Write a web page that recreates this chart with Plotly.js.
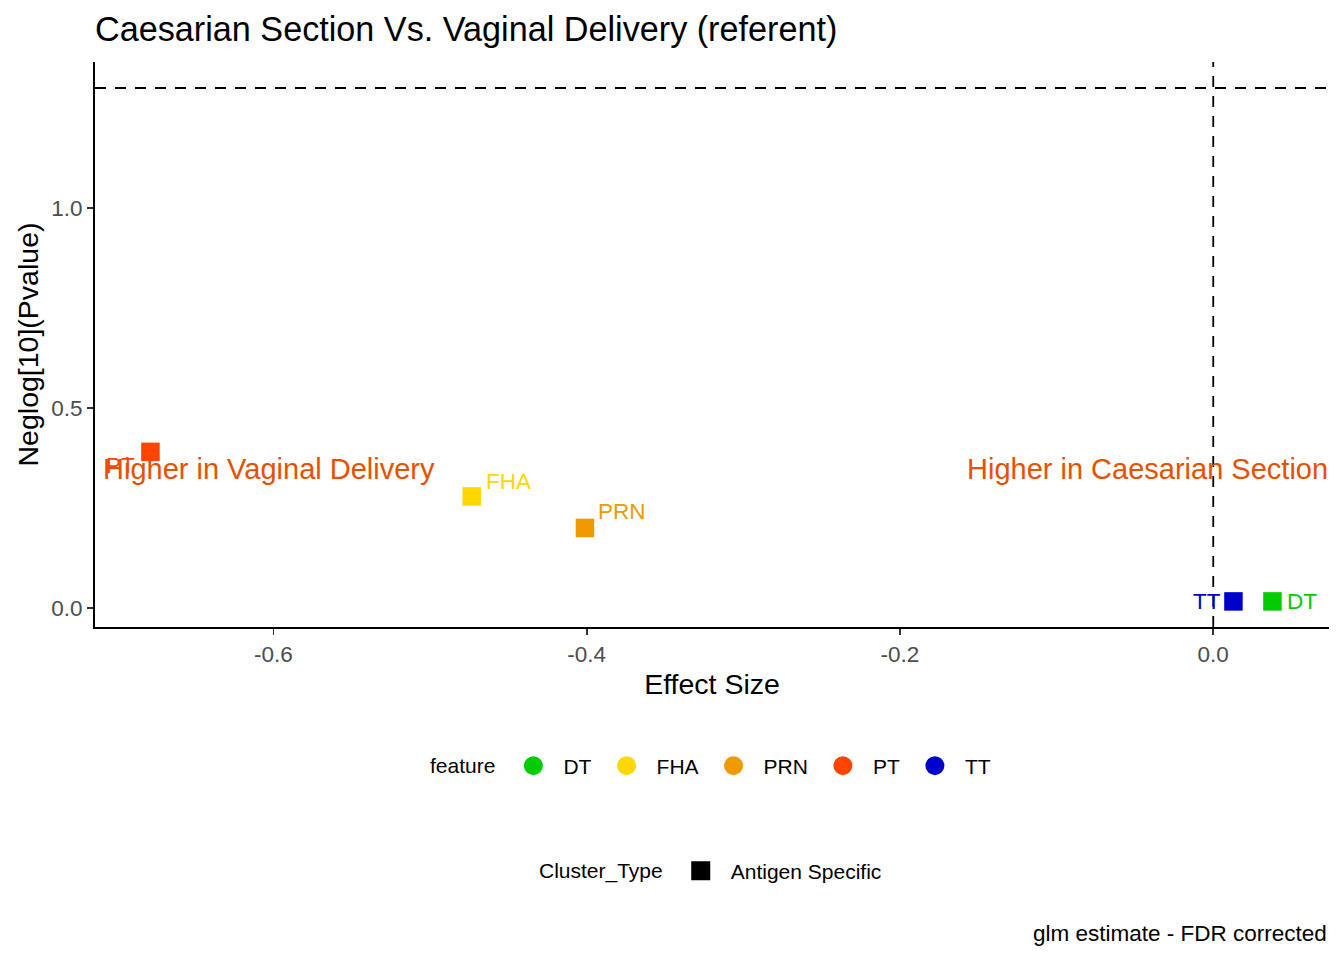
<!DOCTYPE html>
<html>
<head>
<meta charset="utf-8">
<script src="https://cdn.plot.ly/plotly-3.0.1.min.js"></script>
<style>
  html, body { margin: 0; padding: 0; background: #ffffff; }
  #chart { width: 1344px; height: 960px; }
</style>
</head>
<body>
<div id="chart"></div>
<script>
// ---- data ----
const features   = ['DT', 'FHA', 'PRN', 'PT', 'TT'];
const effectSize = [0.0378, -0.4734, -0.4011, -0.6785, 0.0129];
const neglogP    = [0.017, 0.2795, 0.2008, 0.391, 0.017];
const clusterTypes = ['Antigen Specific'];
const xTickVals  = [-0.6, -0.4, -0.2, 0.0];
const xTickText  = ['-0.6', '-0.4', '-0.2', '0.0'];
const yTickVals  = [0.0, 0.5, 1.0];
const yTickText  = ['0.0', '0.5', '1.0'];
const pThreshold = 0.05;

// ---- styles ----
const featureColors = {DT: '#00CD00', FHA: '#FFD700', PRN: '#EE9A00', PT: '#FF4500', TT: '#0000CD'};
const labelOffsets = {            // pixel offsets of the repelled text labels
  DT:  {dx: 29.5,  dy: -0.5},
  FHA: {dx: 36.3,  dy: 15},
  PRN: {dx: 37,    dy: 16},
  PT:  {dx: -29.5, dy: -14},
  TT:  {dx: -26.8, dy: -0.5}
};
const FONT = 'Liberation Sans, Arial, Helvetica, sans-serif';
const annotColor = '#E65100';

const traces = [];
// data points (squares)
features.forEach((f, i) => {
  traces.push({
    type: 'scatter', mode: 'markers',
    x: [effectSize[i]], y: [neglogP[i]],
    marker: {symbol: 'square', size: 18.5, color: featureColors[f]},
    showlegend: false, hoverinfo: 'x+y+name', name: f
  });
});
// legend entries: feature (circles)
features.forEach((f) => {
  traces.push({
    type: 'scatter', mode: 'markers',
    x: [null], y: [null],
    marker: {symbol: 'circle', size: 16, color: featureColors[f],
             line: {color: featureColors[f], width: 3}},
    name: f, legend: 'legend', showlegend: true
  });
});
// legend entries: Cluster_Type (square)
clusterTypes.forEach((c) => {
  traces.push({
    type: 'scatter', mode: 'markers',
    x: [null], y: [null],
    marker: {symbol: 'square', size: 16, color: '#000000',
             line: {color: '#000000', width: 3}},
    name: c, legend: 'legend2', showlegend: true
  });
});

const annotations = [];
features.forEach((f, i) => {
  annotations.push({
    x: effectSize[i], y: neglogP[i], xref: 'x', yref: 'y',
    text: f, showarrow: false,
    xshift: labelOffsets[f].dx, yshift: labelOffsets[f].dy,
    xanchor: 'center', yanchor: 'middle',
    font: {family: FONT, size: 22.5, color: featureColors[f]}
  });
});
annotations.push({
  x: 0, xref: 'paper', xanchor: 'left', xshift: 6,
  y: 0.3475, yref: 'y', yanchor: 'middle',
  text: 'Higher in Vaginal Delivery', showarrow: false,
  font: {family: FONT, size: 29, color: annotColor}
});
annotations.push({
  x: 1, xref: 'paper', xanchor: 'right', xshift: 1,
  y: 0.3475, yref: 'y', yanchor: 'middle',
  text: 'Higher in Caesarian Section', showarrow: false,
  font: {family: FONT, size: 29, color: annotColor}
});
annotations.push({
  x: 1, xref: 'paper', xanchor: 'right',
  y: -0.5416, yref: 'paper', yanchor: 'middle',
  text: 'glm estimate - FDR corrected', showarrow: false,
  font: {family: FONT, size: 22.5, color: '#000000'}
});

const layout = {
  width: 1344, height: 960,
  paper_bgcolor: '#ffffff', plot_bgcolor: '#ffffff',
  margin: {l: 95, r: 15, t: 62, b: 333, pad: 0},
  font: {family: FONT, color: '#000000'},
  title: {
    text: 'Caesarian Section Vs. Vaginal Delivery (referent)',
    x: 0, xref: 'paper', xanchor: 'left',
    y: 1 - 29 / 960, yref: 'container', yanchor: 'middle',
    font: {family: FONT, size: 34.2, color: '#000000'}
  },
  xaxis: {
    range: [-0.7139, 0.0739],
    tickmode: 'array', tickvals: xTickVals, ticktext: xTickText,
    ticks: 'outside', ticklen: 6, tickwidth: 1.8, tickcolor: '#333333',
    tickfont: {family: FONT, size: 22.5, color: '#4D4D4D'},
    showline: true, linecolor: '#000000', linewidth: 2,
    showgrid: false, zeroline: false,
    title: {text: 'Effect Size', standoff: 8, font: {family: FONT, size: 28.5, color: '#000000'}}
  },
  yaxis: {
    range: [-0.047, 1.366],
    tickmode: 'array', tickvals: yTickVals, ticktext: yTickText,
    ticks: 'outside', ticklen: 6, tickwidth: 1.8, tickcolor: '#333333',
    tickfont: {family: FONT, size: 22.5, color: '#4D4D4D'},
    showline: true, linecolor: '#000000', linewidth: 2,
    showgrid: false, zeroline: false,
    title: {text: 'Neglog[10](Pvalue)', standoff: 4, font: {family: FONT, size: 28.5, color: '#000000'}}
  },
  shapes: [
    {type: 'line', xref: 'paper', x0: 0, x1: 1, yref: 'y',
     y0: -Math.log10(pThreshold), y1: -Math.log10(pThreshold),
     line: {color: '#000000', width: 1.8, dash: '11px,9px'}},
    {type: 'line', xref: 'x', x0: 0, x1: 0, yref: 'paper', y0: 0, y1: 1,
     line: {color: '#000000', width: 1.8, dash: '11px,9px'}}
  ],
  annotations: annotations,
  legend: {
    orientation: 'h', x: 0.5, xanchor: 'center', y: -0.246, yanchor: 'middle',
    xref: 'paper', yref: 'paper',
    font: {family: FONT, size: 21, color: '#000000'},
    title: {text: 'feature', side: 'left', font: {family: FONT, size: 21, color: '#000000'}},
    itemwidth: 50, bgcolor: 'rgba(0,0,0,0)', traceorder: 'normal'
  },
  legend2: {
    orientation: 'h', x: 0.5, xanchor: 'center', y: -0.432, yanchor: 'middle',
    xref: 'paper', yref: 'paper',
    font: {family: FONT, size: 21, color: '#000000'},
    title: {text: 'Cluster_Type', side: 'left', font: {family: FONT, size: 21, color: '#000000'}},
    itemwidth: 50, bgcolor: 'rgba(0,0,0,0)'
  },
  showlegend: true
};

Plotly.newPlot('chart', traces, layout, {displayModeBar: false, staticPlot: true});
</script>
</body>
</html>
